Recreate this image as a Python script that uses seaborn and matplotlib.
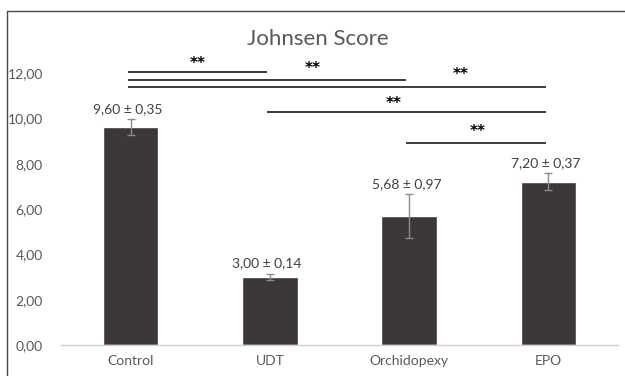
import matplotlib
matplotlib.use("Agg")
import matplotlib.pyplot as plt
from matplotlib.lines import Line2D
import seaborn as sns
import pandas as pd

# Johnsen score per group (mean and SD)
groups = ["Control", "UDT", "Orchidopexy", "EPO"]
means = [9.60, 3.00, 5.68, 7.20]
sds = [0.35, 0.14, 0.97, 0.37]
value_labels = ["9,60 ± 0,35", "3,00 ± 0,14", "5,68 ± 0,97", "7,20 ± 0,37"]
ytick_values = [0, 2, 4, 6, 8, 10, 12]
ytick_labels = ["0,00", "2,00", "4,00", "6,00", "8,00", "10,00", "12,00"]

# Significance brackets: (from group, to group, line height, star x, star y)
sig_from = ["Control", "Control", "Control", "UDT", "Orchidopexy"]
sig_to = ["UDT", "Orchidopexy", "EPO", "EPO", "EPO"]
sig_line_y = [12.04, 11.71, 11.38, 10.28, 8.91]
sig_star_x = [0.48, 1.31, 2.37, 1.89, 2.49]
sig_star_y = [12.40, 12.18, 11.92, 10.64, 9.40]
sig_text = ["**", "**", "**", "**", "**"]

df = pd.DataFrame({"group": groups, "mean": means, "sd": sds})

sns.set_theme(style="white")
plt.rcParams["font.family"] = ["Lato", "DejaVu Sans"]

fig = plt.figure(figsize=(6.25, 3.76), dpi=100)
ax = fig.add_axes([0.0976, 0.0824, 0.8914, 0.8138])

bar_color = "#3b3837"
text_gray = "#595959"

sns.barplot(data=df, x="group", y="mean", order=groups, color=bar_color,
            width=0.4, errorbar=None, saturation=1, ax=ax)

xpos = range(len(groups))
ax.errorbar(list(xpos), df["mean"], yerr=df["sd"], fmt="none",
            ecolor="#8c8c8c", elinewidth=1.0, capsize=3, capthick=1.0, zorder=3)

for i, (m, s, lab) in enumerate(zip(means, sds, value_labels)):
    ax.text(i - 0.02, m + s + 0.2, lab, ha="center", va="bottom",
            fontsize=10, color="#404040")

idx = {g: i for i, g in enumerate(groups)}
for a, b, ly, sx, sy, st in zip(sig_from, sig_to, sig_line_y, sig_star_x, sig_star_y, sig_text):
    ax.plot([idx[a] - 0.02, idx[b] - 0.02], [ly, ly], color="#2b2b2b", lw=1.3,
            clip_on=False, solid_capstyle="butt")
    ax.text(sx, sy, st, ha="center", va="center", fontsize=11, fontweight="bold",
            color="black", family="DejaVu Sans")

ax.set_xlim(-0.5, 3.5)
ax.set_ylim(0, 13.5)
ax.set_yticks(ytick_values)
ax.set_yticklabels(ytick_labels)
ax.set_xlabel("")
ax.set_ylabel("")
ax.tick_params(axis="y", length=0, pad=13, labelsize=10, labelcolor=text_gray)
ax.tick_params(axis="x", length=0, pad=7, labelsize=10, labelcolor=text_gray)
for side in ["top", "right", "left"]:
    ax.spines[side].set_visible(False)
ax.spines["bottom"].set_color("#d0d0d0")
ax.spines["bottom"].set_linewidth(1.0)

fig.text(0.509, 0.897, "Johnsen Score", ha="center", va="center",
         fontsize=16, color=text_gray)

# Chart-area frame along the left and top edges
frame_x = 6.5 / 625
frame_y = 1 - 10.5 / 376
fig.add_artist(Line2D([frame_x, frame_x], [0, frame_y], transform=fig.transFigure,
                      color="#4a4a4a", lw=1.0))
fig.add_artist(Line2D([frame_x, 1], [frame_y, frame_y], transform=fig.transFigure,
                      color="#4a4a4a", lw=1.0))

fig.savefig("out.png", dpi=100)
